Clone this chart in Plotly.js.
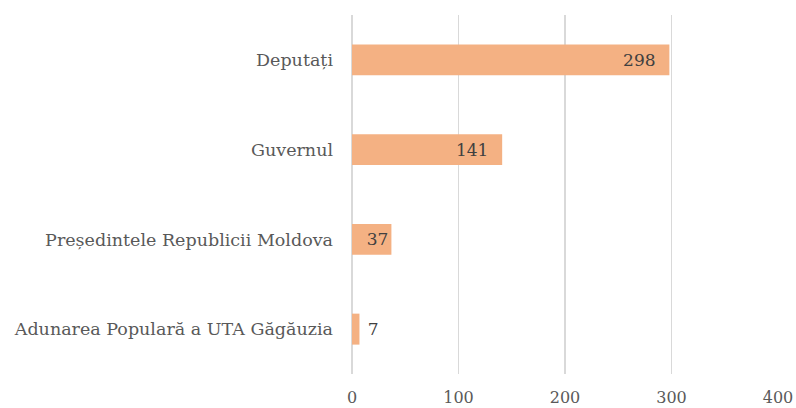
<!DOCTYPE html>
<html>
<head>
<meta charset="utf-8">
<script src="https://cdn.plot.ly/plotly-3.0.1.min.js"></script>
<style>html,body{margin:0;padding:0;background:#fff;}#chart{width:796px;height:408px;}</style>
</head>
<body>
<div id="chart"></div>
<script>
const categories = ["Deputați", "Guvernul", "Președintele Republicii Moldova", "Adunarea Populară a UTA Găgăuzia"];
const values = [298, 141, 37, 7];
const xTicks = [0, 100, 200, 300, 400];
const labelTemplates = ["%{x}\u00a0\u00a0", "%{x}\u00a0\u00a0", "%{x}", "\u00a0%{x}"];

const trace = {
  type: 'bar',
  orientation: 'h',
  y: categories,
  x: values,
  texttemplate: labelTemplates,
  textposition: 'auto',
  insidetextanchor: 'end',
  textangle: 0,
  constraintext: 'none',
  cliponaxis: false,
  insidetextfont: {family: 'DejaVu Serif', size: 17, color: '#404040'},
  outsidetextfont: {family: 'DejaVu Serif', size: 17, color: '#404040'},
  marker: {color: '#F4B183'},
  hoverinfo: 'none'
};

const layout = {
  width: 796, height: 408,
  margin: {l: 352, r: 18, t: 15, b: 34},
  paper_bgcolor: '#ffffff', plot_bgcolor: '#ffffff',
  showlegend: false,
  bargap: 0.655,
  font: {family: 'DejaVu Serif', color: '#595959'},
  xaxis: {
    range: [0, 400],
    tickvals: xTicks,
    ticktext: xTicks.map(String),
    showgrid: true, gridcolor: '#d9d9d9', gridwidth: 1.5,
    zeroline: true, zerolinecolor: '#d9d9d9', zerolinewidth: 1.5,
    showline: false, ticks: '',
    ticklabelstandoff: 12,
    tickfont: {family: 'DejaVu Serif', size: 16, color: '#595959'},
    fixedrange: true
  },
  yaxis: {
    autorange: 'reversed',
    showgrid: false, zeroline: false, showline: false, ticks: '',
    ticklabelstandoff: 18,
    tickfont: {family: 'DejaVu Serif', size: 17.5, color: '#595959'},
    fixedrange: true
  }
};

Plotly.newPlot('chart', [trace], layout, {displayModeBar: false, staticPlot: true});
</script>
</body>
</html>
